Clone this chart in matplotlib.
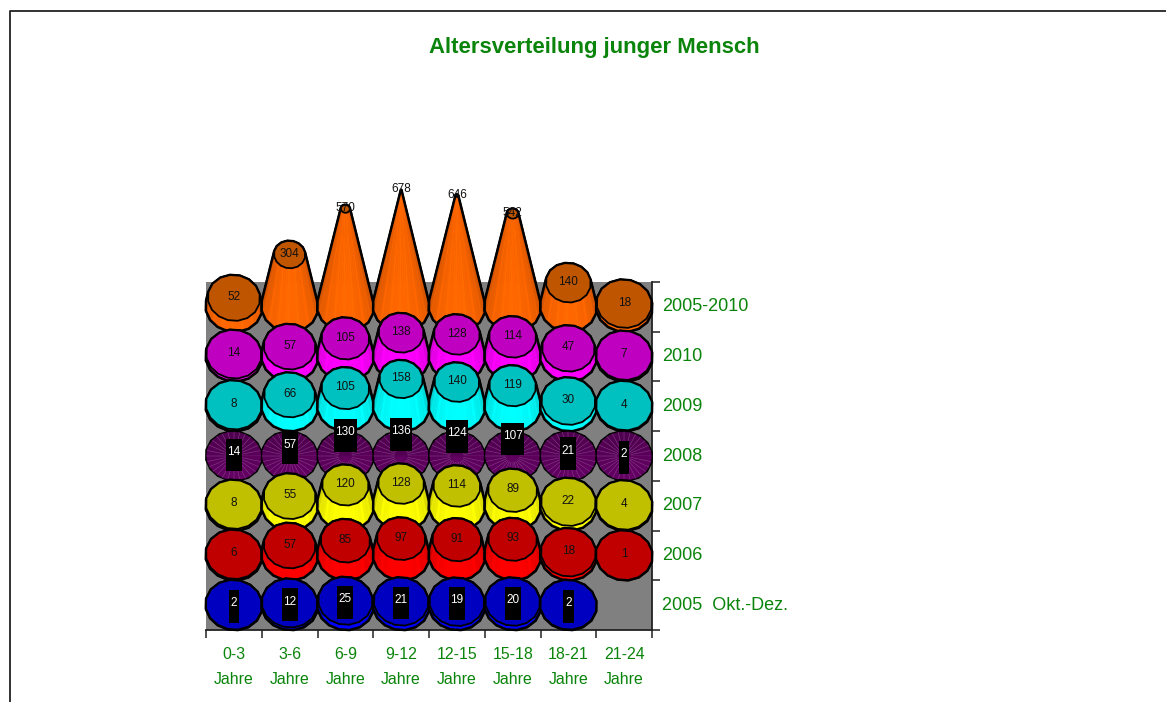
import numpy as np
import matplotlib
matplotlib.use('Agg')
import matplotlib.pyplot as plt
from matplotlib.patches import Polygon, Rectangle
from matplotlib.colors import to_rgb

plt.rcParams['font.family'] = ['Liberation Sans', 'DejaVu Sans']

jahre = ['0-3', '3-6', '6-9', '9-12', '12-15', '15-18', '18-21', '21-24']
reihen = ['2005  Okt.-Dez.', '2006', '2007', '2008', '2009', '2010', '2005-2010']
werte_2005 = [2, 12, 25, 21, 19, 20, 2, 0]
werte_2006 = [6, 57, 85, 97, 91, 93, 18, 1]
werte_2007 = [8, 55, 120, 128, 114, 89, 22, 4]
werte_2008 = [14, 57, 130, 136, 124, 107, 21, 2]
werte_2009 = [8, 66, 105, 158, 140, 119, 30, 4]
werte_2010 = [14, 57, 105, 138, 128, 114, 47, 7]
werte_gesamt = [52, 304, 570, 678, 646, 542, 140, 18]
alle_werte = [werte_2005, werte_2006, werte_2007, werte_2008, werte_2009, werte_2010, werte_gesamt]

seiten = ['#0000ff', '#ff0000', '#ffff00', '#660066', '#00ffff', '#ff00ff', '#ff6600']
deckel = ['#0000c0', '#c00000', '#c0c000', '#660066', '#00c0c0', '#c000c0', '#c05500']
gruen = '#0a840a'

W, H = 1166, 702
fig = plt.figure(figsize=(W / 100, H / 100), dpi=100)
ax = fig.add_axes([206 / W, 1 - 630 / H, 446 / W, 348 / H])
ax.set_xlim(0, 8)
ax.set_ylim(0, 7)
ax.set_facecolor('#808080')

# kegel masse in achsen-einheiten
rx, ry = 0.5, 0.51
hoehe = 0.00346
wmax = 678
n = 16
winkel = np.linspace(0, 2 * np.pi, n + 1) + 0.15
# kreise sind im original leicht unrund
unrund = 1 + 0.025 * np.cos(2 * winkel + 0.8)


def ring(cx, cy, f):
    return np.column_stack([cx + rx * f * unrund * np.cos(winkel), cy + ry * f * unrund * np.sin(winkel)])


def huelle(pts):
    pts = sorted(set(map(tuple, np.round(pts, 5))))
    def halb(p):
        h = []
        for q in p:
            while len(h) > 1 and (h[-1][0] - h[-2][0]) * (q[1] - h[-2][1]) - (h[-1][1] - h[-2][1]) * (q[0] - h[-2][0]) <= 0:
                h.pop()
            h.append(q)
        return h[:-1]
    return np.array(halb(pts) + halb(pts[::-1]))


def schatten(farbe, a, k):
    # dunkler zu den seiten hin, hell in der mitte unten
    hell = 0.76 + 0.24 * max(0, -np.sin(a)) ** 0.7
    if k == 1:
        hell *= 1.05
    return tuple(min(1, c * hell) for c in to_rgb(farbe))


z = 3
for r in range(6, -1, -1):
    for s in range(8):
        v = alle_werte[r][s]
        if v == 0:
            continue
        cx, cy = s + 0.5, r + 0.5
        unten = ring(cx, cy, 1)
        if r == 3:
            # 2008 ist von oben gesehen: nur scheibe mit strahlen
            ax.add_patch(Polygon(unten, closed=True, fc='#5c005c', ec='black', lw=1.3, zorder=z, clip_on=False))
            z += 1
            m = 28
            t = np.linspace(0, 2 * np.pi, m + 1)
            for i in range(m):
                tm = np.interp(t[i:i + 2], winkel, unrund, period=2 * np.pi)
                f = 0.96
                p = [(cx, cy),
                     (cx + rx * f * tm[0] * np.cos(t[i]), cy + ry * f * tm[0] * np.sin(t[i])),
                     (cx + rx * f * tm[1] * np.cos(t[i + 1]), cy + ry * f * tm[1] * np.sin(t[i + 1]))]
                hell = 0.78 + 0.2 * (0.5 - 0.5 * np.sin(t[i]))
                fb = tuple(c * hell for c in to_rgb('#660066'))
                ax.add_patch(Polygon(p, closed=True, fc=fb, ec=fb, lw=0.3, zorder=z, clip_on=False))
                ax.plot([cx + 0.25 * rx * np.cos(t[i]), p[1][0]], [cy + 0.25 * ry * np.sin(t[i]), p[1][1]],
                        color='#8a4a8a', lw=0.35, zorder=z, clip_on=False)
            z += 1
            continue
        dy = v * hoehe
        f = max(1 - v / wmax, 0.01)
        oben = ring(cx, cy + dy, f)
        ax.add_patch(Polygon(huelle(np.vstack([unten, oben])), closed=True, fc=seiten[r], ec='black', lw=2.0,
                             zorder=z, clip_on=False))
        z += 1
        for i in sorted(range(n), key=lambda q: -np.sin(winkel[q])):
            for k in range(3):
                # jede facette in schmale streifen teilen
                a0, a1 = k / 3, (k + 1) / 3
                p = [unten[i] + (unten[i + 1] - unten[i]) * a0, unten[i] + (unten[i + 1] - unten[i]) * a1,
                     oben[i] + (oben[i + 1] - oben[i]) * a1, oben[i] + (oben[i + 1] - oben[i]) * a0]
                a = winkel[i] + (winkel[i + 1] - winkel[i]) * (k + 0.5) / 3
                fb = schatten(seiten[r], a, k)
                ax.add_patch(Polygon(p, closed=True, fc=fb, ec=fb, lw=0.3, zorder=z, clip_on=False))
        z += 1
        # aussenlinie unten nochmal, die streifen liegen sonst darueber
        ax.add_patch(Polygon(huelle(np.vstack([unten, oben])), closed=True, fc='none', ec='black', lw=1.6,
                             zorder=z, clip_on=False))
        ax.add_patch(Polygon(oben, closed=True, fc=deckel[r], ec='black', lw=1.3, zorder=z, clip_on=False))
        z += 1

# beschriftung der werte
for r in range(7):
    for s in range(8):
        v = alle_werte[r][s]
        if v == 0:
            continue
        tx, ty = s + 0.5, r + 0.5 + v * hoehe
        if r in (0, 3):
            tb = {1: 0.19, 2: 0.29, 3: 0.40}[len(str(v))]
            ax.add_patch(Rectangle((tx - tb / 2, ty - 0.36), tb, 0.66, fc='black', ec='none', zorder=z, clip_on=False))
            ax.text(tx, ty + 0.03, str(v), color='white', fontsize=8.5, ha='center', va='center', zorder=z + 1)
        else:
            ax.text(tx, ty + 0.02, str(v), color='#111111', fontsize=8.5, ha='center', va='center', zorder=z + 1)

ax.set_xticks(range(9))
ax.set_yticks(range(8))
ax.set_xticklabels([])
ax.set_yticklabels([])
ax.yaxis.tick_right()
ax.tick_params(axis='both', length=5.5, width=1.2, color='#333333')
for k in ['top', 'left']:
    ax.spines[k].set_visible(False)
for k in ['bottom', 'right']:
    ax.spines[k].set_linewidth(1.3)
    ax.spines[k].set_color('#222222')

for s, j in enumerate(jahre):
    ax.annotate(j + '\nJahre', (s + 0.5, 0), xytext=(0, -12), textcoords='offset points', color=gruen,
                fontsize=11.4, ha='center', va='top', linespacing=1.9, annotation_clip=False)
for r, name in enumerate(reihen):
    ax.annotate(name, (8, r + 0.5), xytext=(7.5, 0), textcoords='offset points', color=gruen,
                fontsize=13, ha='left', va='center', annotation_clip=False)

fig.text(594.5 / W, 1 - 47 / H, 'Altersverteilung junger Mensch', color=gruen, fontsize=15.9, fontweight='bold',
         ha='center', va='center')

# rahmen, rechts und unten abgeschnitten
fig.add_artist(plt.Line2D([9.5 / W, 9.5 / W, 1], [0, 1 - 10.5 / H, 1 - 10.5 / H], color='#222222', lw=1.3))

fig.savefig('out.png', dpi=100)
